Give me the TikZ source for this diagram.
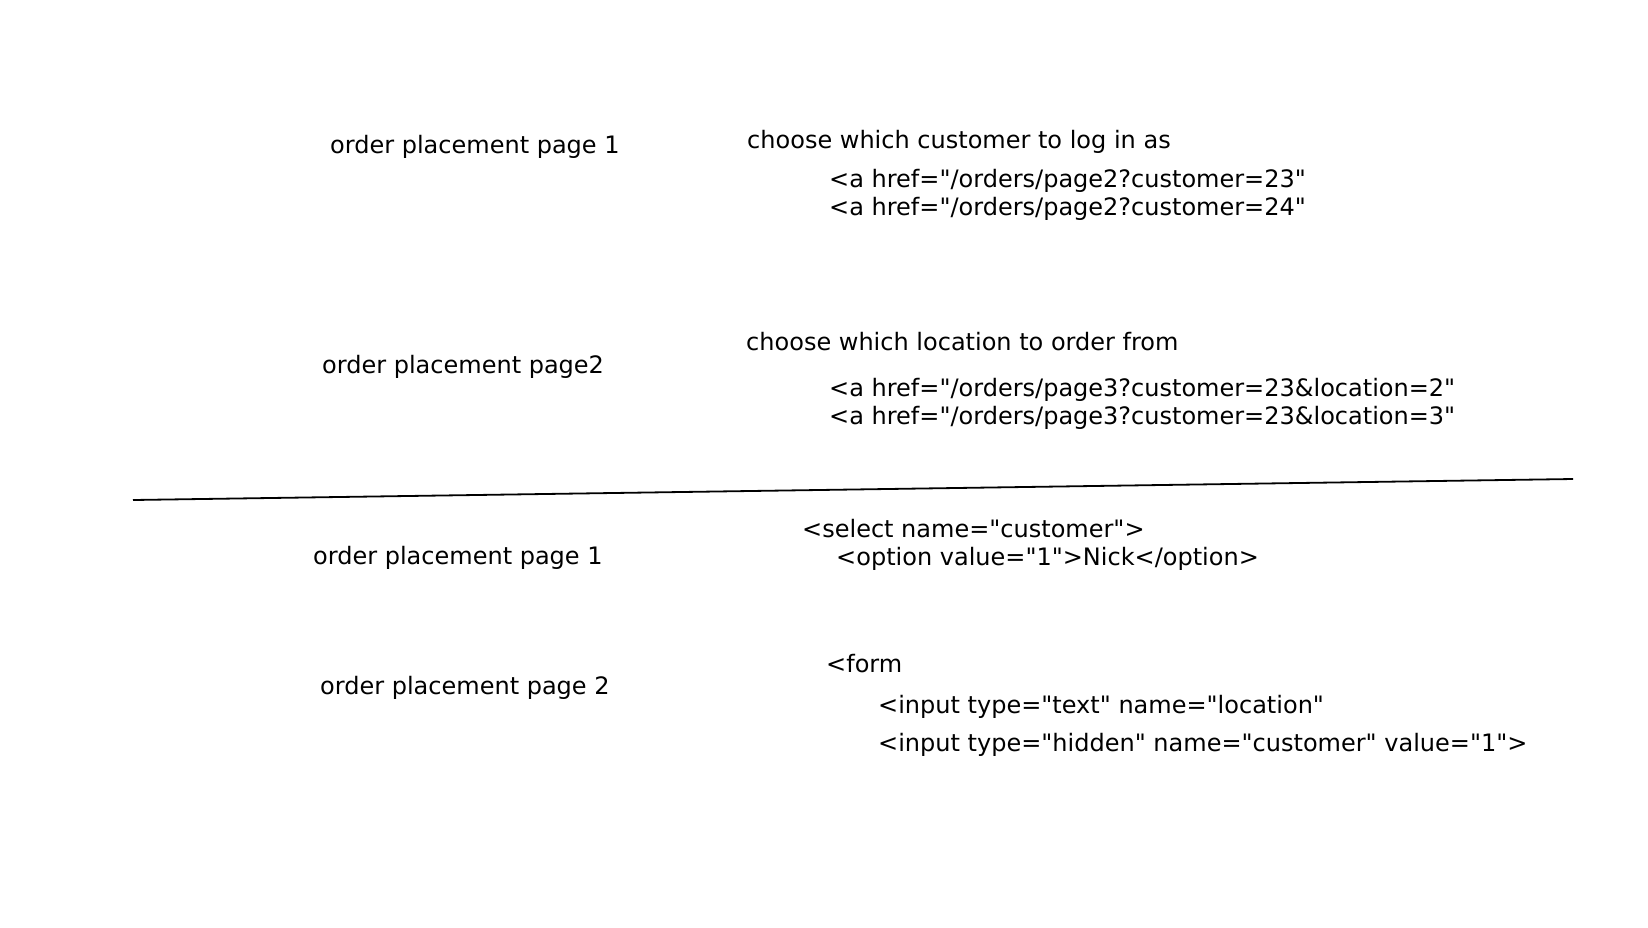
\documentclass[tikz,border=0pt]{standalone}
\usepackage{fontspec}
\setmainfont{DejaVu Sans}[Ligatures=TeXOff]
\usepackage{tikz}

\begin{document}
\begin{tikzpicture}[x=1pt, y=-1pt,
		txt/.style={anchor=west, inner sep=0pt, font=\fontsize{24}{28}\selectfont}]
		\useasboundingbox (0, 0) rectangle (1648, 927);
		% upper half
		\node[txt] (pageA) at (330, 147) {order placement page 1};
		\node[txt] (custHead) at (747, 142) {choose which customer to log in as};
		\node[txt] (custA) at (829, 181) {<a href="/orders/page2?customer=23"};
		\node[txt] (custB) at (829, 209) {<a href="/orders/page2?customer=24"};
		\node[txt] (pageB) at (322, 367) {order placement page2};
		\node[txt] (locHead) at (746, 342) {choose which location to order from};
		\node[txt] (locA) at (829, 390) {<a href="/orders/page3?customer=23\&location=2"};
		\node[txt] (locB) at (829, 418) {<a href="/orders/page3?customer=23\&location=3"};
		% divider
		\coordinate (divL) at (133, 500);
		\coordinate (divR) at (1573, 479);
		\draw[line width=1.8pt] (divL) -- (divR);
		% lower half
		\node[txt] (pageC) at (313, 558) {order placement page 1};
		\node[txt] (selOpen) at (802, 529) {<select name="customer">};
		\node[txt] (selOpt) at (836, 559) {<option value="1">Nick</option>};
		\node[txt] (pageD) at (320, 688) {order placement page 2};
		\node[txt] (formOpen) at (826, 664) {<form};
		\node[txt] (inText) at (878, 707) {<input type="text" name="location"};
		\node[txt] (inHidden) at (878, 745) {<input type="hidden" name="customer" value="1">};
	\end{tikzpicture}
\end{document}
